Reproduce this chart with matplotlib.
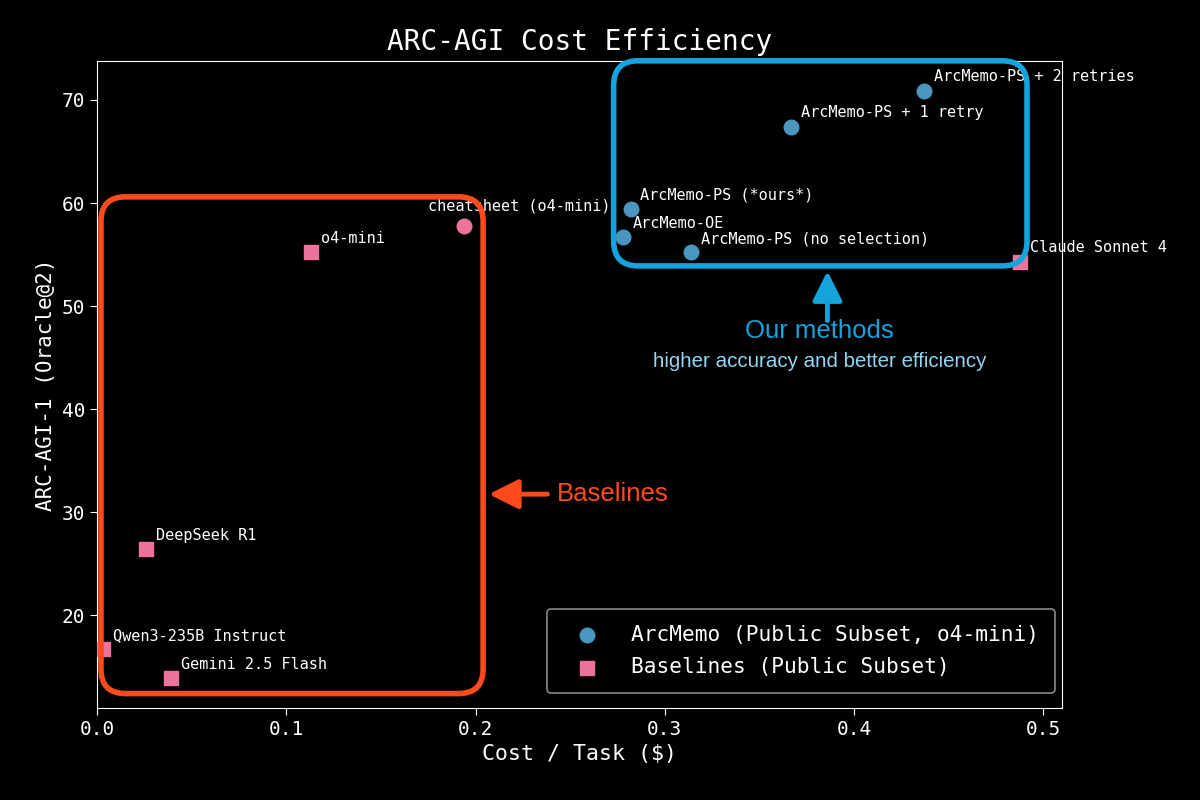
import matplotlib
matplotlib.use("Agg")
import matplotlib.pyplot as plt
from matplotlib.patches import FancyBboxPatch

# ArcMemo results (public subset, o4-mini)
arc_names = ["ArcMemo-PS + 2 retries", "ArcMemo-PS + 1 retry", "ArcMemo-PS (*ours*)",
             "ArcMemo-OE", "ArcMemo-PS (no selection)"]
arc_cost = [0.437, 0.367, 0.282, 0.278, 0.314]
arc_score = [70.9, 67.4, 59.4, 56.7, 55.2]

# Baselines (public subset)
base_names = ["Claude Sonnet 4", "o4-mini", "DeepSeek R1", "Qwen3-235B Instruct", "Gemini 2.5 Flash"]
base_cost = [0.488, 0.113, 0.026, 0.003, 0.039]
base_score = [54.3, 55.2, 26.4, 16.7, 13.9]

# cheatsheet baseline (drawn as a circle)
cheat_name = "cheatsheet (o4-mini)"
cheat_cost = 0.194
cheat_score = 57.8

BLUE = "#4a96c0"
PINK = "#ec739c"
BOX_BLUE = "#14a3dc"
BOX_RED = "#ff4a1c"
MONO = "DejaVu Sans Mono"

plt.rcParams["font.family"] = MONO
fig = plt.figure(figsize=(12, 8), dpi=100, facecolor="black")
ax = fig.add_axes([0.081, 0.115, 0.804, 0.809])
ax.set_facecolor("black")

ax.scatter(arc_cost, arc_score, s=110, marker="o", color=BLUE, zorder=3,
           label="ArcMemo (Public Subset, o4-mini)")
ax.scatter(base_cost, base_score, s=95, marker="s", color=PINK, zorder=3,
           label="Baselines (Public Subset)")
ax.scatter([cheat_cost], [cheat_score], s=110, marker="o", color=PINK, zorder=3)

for n, x, y in zip(arc_names + base_names, arc_cost + base_cost, arc_score + base_score):
    ax.annotate(n, (x, y), xytext=(7, 10), textcoords="offset points",
                color="white", fontsize=11, va="center", ha="left")
ax.annotate(cheat_name, (cheat_cost, cheat_score), xytext=(-26, 14),
            textcoords="offset points", color="white", fontsize=11, va="center")

ax.set_xlim(0, 0.51)
ax.set_ylim(11, 73.8)
ax.set_xticks([0.0, 0.1, 0.2, 0.3, 0.4, 0.5])
ax.set_yticks([20, 30, 40, 50, 60, 70])
ax.tick_params(colors="white", labelsize=14, length=5)
for s in ax.spines.values():
    s.set_color("white")
ax.set_xlabel("Cost / Task ($)", color="white", fontsize=15.5)
ax.set_ylabel("ARC-AGI-1 (Oracle@2)", color="white", fontsize=15)
ax.set_title("ARC-AGI Cost Efficiency", color="white", fontsize=20, pad=8)

leg = ax.legend(loc="lower right", fontsize=15.2, facecolor="black", edgecolor="#aaaaaa",
                labelcolor="white", borderpad=0.75, handlelength=2.3, handletextpad=0.96,
                labelspacing=0.6, borderaxespad=0, bbox_to_anchor=(0.993, 0.023))
leg.get_frame().set_linewidth(1.2)

# highlight boxes (rounded, drawn in data coords with aspect correction)
aspect = (1 / 10.3) / (1 / 1892)
red_box = FancyBboxPatch((0.002, 12.4), 0.202, 48.2,
                         boxstyle="round,pad=0,rounding_size=0.013",
                         mutation_aspect=aspect, fill=False, ec=BOX_RED, lw=4,
                         clip_on=False, zorder=4)
blue_box = FancyBboxPatch((0.273, 53.9), 0.2185, 19.9,
                          boxstyle="round,pad=0,rounding_size=0.013",
                          mutation_aspect=aspect, fill=False, ec=BOX_BLUE, lw=4,
                          clip_on=False, zorder=4)
ax.add_patch(red_box)
ax.add_patch(blue_box)

# callouts
ax.annotate("", xy=(0.207, 31.75), xytext=(0.238, 31.75),
            arrowprops=dict(arrowstyle="-|>", color=BOX_RED, lw=3.5, mutation_scale=45,
                            shrinkA=0, shrinkB=0))
ax.text(0.243, 31.75, "Baselines", color=BOX_RED, fontsize=18.5,
        family="Liberation Sans", va="center", ha="left")
ax.annotate("", xy=(0.386, 53.4), xytext=(0.386, 48.6),
            arrowprops=dict(arrowstyle="-|>", color=BOX_BLUE, lw=3.5, mutation_scale=45,
                            shrinkA=0, shrinkB=0))
ax.text(0.382, 47.6, "Our methods", color=BOX_BLUE, fontsize=18.5,
        family="Liberation Sans", va="center", ha="center")
ax.text(0.382, 44.6, "higher accuracy and better efficiency", color="#93d5f2",
        fontsize=14.8, family="Liberation Sans", va="center", ha="center")

fig.savefig("out.png", dpi=100, facecolor="black")
